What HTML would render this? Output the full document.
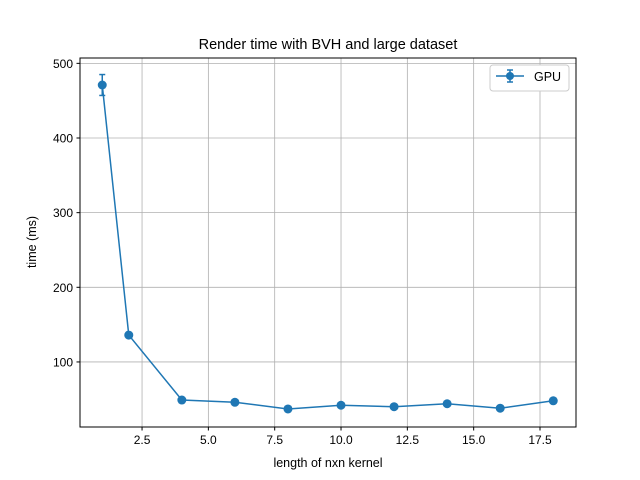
<!DOCTYPE html>
<html><head><meta charset="utf-8"><style>body{margin:0;background:#fff}svg{display:block;font-family:"Liberation Sans","DejaVu Sans",sans-serif}</style></head>
<body>
<svg id="chart" width="640" height="480">
<rect width="640" height="480" fill="#fff"/>
<g id="grid"></g><g id="ticks"></g><g id="series"></g>
<rect x="80" y="58" width="496" height="369" fill="none" stroke="#000" stroke-width="1"/>
<text x="328" y="49" font-size="14.5" text-anchor="middle">Render time with BVH and large dataset</text>
<text x="328" y="467" font-size="12.5" text-anchor="middle">length of nxn kernel</text>
<text x="36" y="242" font-size="12.5" text-anchor="middle" transform="rotate(-90 36 242)">time (ms)</text>
<g>
<rect x="490" y="65" width="79" height="26" rx="3" fill="#fff" stroke="#ccc"/>
<line x1="496" y1="76" x2="524" y2="76" stroke="#1f77b4" stroke-width="1.5"/>
<line x1="510" y1="70" x2="510" y2="82" stroke="#1f77b4" stroke-width="1.5"/>
<line x1="507" y1="70" x2="513" y2="70" stroke="#1f77b4" stroke-width="1.5"/>
<line x1="507" y1="82" x2="513" y2="82" stroke="#1f77b4" stroke-width="1.5"/>
<circle cx="510" cy="76" r="4" fill="#1f77b4"/>
<text x="534" y="81" font-size="12.5">GPU</text>
</g>
</svg>
<script>
const xs=[1,2,4,6,8,10,12,14,16,18];
const times=[471,136,49,46,37,42,40,44,38,48];
const errs=[14,3,3,3,2,2,2,2,2,2];
const xTicks=[2.5,5.0,7.5,10.0,12.5,15.0,17.5];
const yTicks=[100,200,300,400,500];
const NS="http://www.w3.org/2000/svg";
const X=v=>79.7+(v-0.15)*26.53;
const Y=v=>436.6-v*0.7465;
function mk(t,a,p){const e=document.createElementNS(NS,t);for(const k in a)e.setAttribute(k,a[k]);p.appendChild(e);return e;}
const g=document.getElementById('grid'),tk=document.getElementById('ticks'),s=document.getElementById('series');
xTicks.forEach(v=>{const x=X(v);
mk('line',{x1:x,x2:x,y1:58,y2:427,stroke:'#b0b0b0','stroke-width':0.8},g);
mk('line',{x1:x,x2:x,y1:427,y2:430.5,stroke:'#000'},tk);
const t=mk('text',{x:x,y:444,'font-size':12,'text-anchor':'middle'},tk);t.textContent=v.toFixed(1);

});
yTicks.forEach(v=>{const y=Y(v);
mk('line',{x1:80,x2:576,y1:y,y2:y,stroke:'#b0b0b0','stroke-width':0.8},g);
mk('line',{x1:76.5,x2:80,y1:y,y2:y,stroke:'#000'},tk);
const t=mk('text',{x:73,y:y+4.5,'font-size':12,'text-anchor':'end'},tk);t.textContent=v;

});
const line=mk('polyline',{points:xs.map((x,i)=>X(x)+','+Y(times[i])).join(' '),fill:'none',stroke:'#1f77b4','stroke-width':1.5},s);


xs.forEach((x,i)=>{const cx=X(x),y1=Y(times[i]-errs[i]),y2=Y(times[i]+errs[i]);
mk('line',{x1:cx,x2:cx,y1:y1,y2:y2,stroke:'#1f77b4','stroke-width':1.5},s);
mk('line',{x1:cx-3,x2:cx+3,y1:y1,y2:y1,stroke:'#1f77b4','stroke-width':1.5},s);
mk('line',{x1:cx-3,x2:cx+3,y1:y2,y2:y2,stroke:'#1f77b4','stroke-width':1.5},s);
const c=mk('circle',{cx:cx,cy:Y(times[i]),r:4.5,fill:'#1f77b4'},s);

});
</script>
</body></html>
